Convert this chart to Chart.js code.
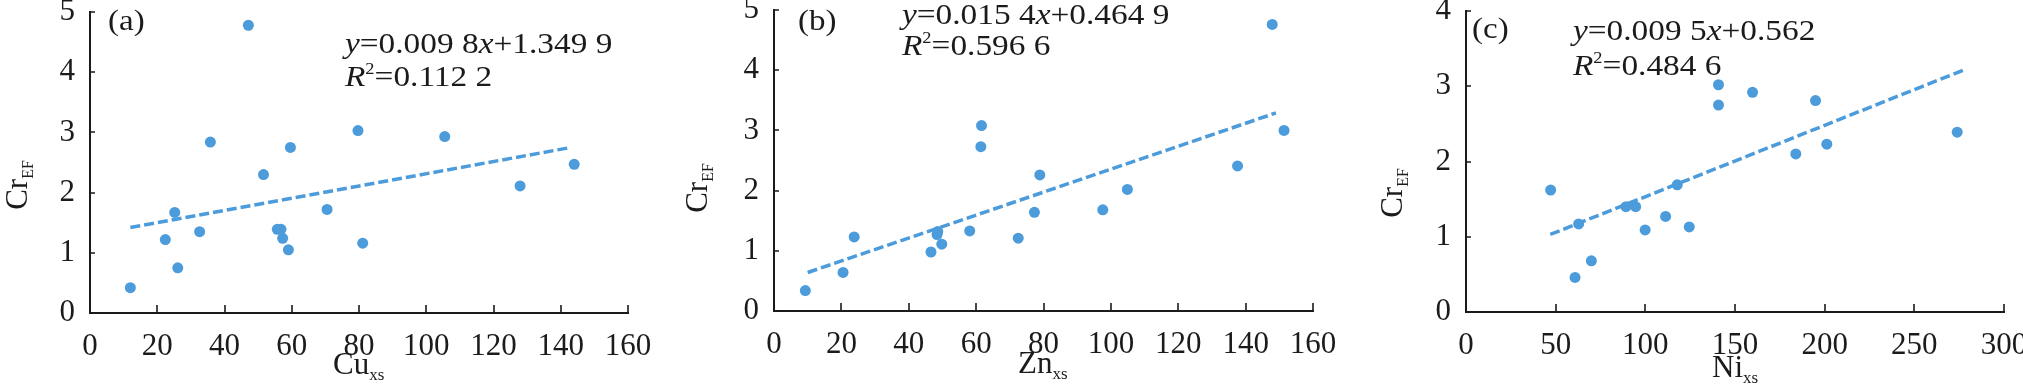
<!DOCTYPE html>
<html>
<head>
<meta charset="utf-8">
<script src="https://cdn.jsdelivr.net/npm/chart.js@4.4.1/dist/chart.umd.min.js"></script>
<style>
    body { margin: 0; background: #fff; width: 2023px; height: 384px; overflow: hidden; position: relative; }
    canvas { position: absolute; top: 0; }
</style>
</head>
<body>
<canvas id="chartA" width="680" height="384" style="left:0px"></canvas>
<canvas id="chartB" width="670" height="384" style="left:680px"></canvas>
<canvas id="chartC" width="673" height="384" style="left:1350px"></canvas>
<script>
// (a) Cu_xs x Cr_EF
const cuX = [12.0, 22.4, 25.2, 26.1, 32.6, 35.8, 47.1, 51.6, 55.7, 56.8, 57.3, 59.0, 59.6, 70.5, 79.7, 81.1, 105.5, 127.9, 144.0];
const cuY = [0.42, 1.22, 1.67, 0.75, 1.35, 2.84, 4.78, 2.30, 1.39, 1.39, 1.24, 1.05, 2.75, 1.72, 3.03, 1.16, 2.93, 2.11, 2.47];
const cuFitX = [12, 143];
const cuFitY = [1.42, 2.75];
const cuTicksX = [0, 20, 40, 60, 80, 100, 120, 140, 160];
const cuTicksY = [0, 1, 2, 3, 4, 5];

// (b) Zn_xs x Cr_EF
const znX = [9.3, 20.5, 23.8, 46.6, 48.4, 48.6, 49.8, 58.1, 61.6, 61.4, 72.5, 77.3, 78.9, 97.6, 104.9, 137.6, 147.9, 151.4];
const znY = [0.34, 0.64, 1.23, 0.98, 1.27, 1.32, 1.11, 1.33, 3.08, 2.73, 1.21, 1.64, 2.26, 1.68, 2.02, 2.41, 4.76, 3.00];
const znFitX = [10, 149];
const znFitY = [0.64, 3.29];
const znTicksX = [0, 20, 40, 60, 80, 100, 120, 140, 160];
const znTicksY = [0, 1, 2, 3, 4, 5];

// (c) Ni_xs x Cr_EF
const niX = [47.2, 62.8, 60.8, 69.9, 89.2, 94.6, 99.9, 111.3, 117.8, 124.5, 140.8, 140.8, 159.8, 183.9, 194.9, 201.2, 273.9];
const niY = [1.62, 1.17, 0.46, 0.68, 1.40, 1.40, 1.09, 1.27, 1.69, 1.13, 3.02, 2.75, 2.92, 2.10, 2.81, 2.23, 2.39];
const niFitX = [47, 279];
const niFitY = [1.03, 3.23];
const niTicksX = [0, 50, 100, 150, 200, 250, 300];
const niTicksY = [0, 1, 2, 3, 4];

// textos das equacoes
const eqA = ['0.009 8', '1.349 9', '0.112 2'];
const eqB = ['0.015 4', '0.464 9', '0.596 6'];
const eqC = ['0.009 5', '0.562', '0.484 6'];

const BLUE = '#4c9bdb';
const INK = '#1b1b1b';
const FONT = '"Liberation Serif", "Times New Roman", serif';
const STRETCH = 1.15; // o texto original e um pouco mais largo

Chart.defaults.font.family = FONT;
Chart.defaults.color = INK;

function toPoints(xs, ys) {
    return xs.map((x, i) => ({ x: x, y: ys[i] }));
}

function setFont(ctx, size, italic) {
    ctx.font = (italic ? 'italic ' : '') + size + 'px ' + FONT;
}

// desenha uma sequencia de pedacos de texto (com sub/sobrescritos)
function drawRuns(ctx, runs, x, y, k) {
    k = k || 1;
    runs.forEach(r => {
        setFont(ctx, r.size || 29, r.italic);
        ctx.save();
        ctx.translate(x, y + (r.dy || 0));
        ctx.scale(k, 1);
        ctx.fillText(r.text, 0, 0);
        ctx.restore();
        x += ctx.measureText(r.text).width * k;
    });
}

function runsWidth(ctx, runs) {
    let w = 0;
    runs.forEach(r => {
        setFont(ctx, r.size || 29, r.italic);
        w += ctx.measureText(r.text).width;
    });
    return w;
}

// ticks para dentro + textos do painel
const panelDecor = {
    id: 'panelDecor',
    afterDraw(chart, args, opts) {
        const ctx = chart.ctx;
        const area = chart.chartArea;
        const sx = chart.scales.x, sy = chart.scales.y;
        ctx.save();
        ctx.strokeStyle = INK;
        ctx.lineWidth = 1.6;
        ctx.beginPath();
        sx.ticks.forEach(t => {
            const px = Math.round(sx.getPixelForValue(t.value));
            ctx.moveTo(px, area.bottom);
            ctx.lineTo(px, area.bottom - 8);
        });
        sy.ticks.forEach(t => {
            const py = Math.round(sy.getPixelForValue(t.value));
            ctx.moveTo(area.left, py);
            ctx.lineTo(area.left + 5, py);
        });
        ctx.stroke();

        const off = opts.offset;
        ctx.fillStyle = INK;
        ctx.textAlign = 'left';
        ctx.textBaseline = 'alphabetic';

        // rotulo (a)/(b)/(c)
        drawRuns(ctx, [{ text: opts.label, size: 30 }], opts.labelPos[0] - off, opts.labelPos[1], 1.1);

        // equacao
        const ex = opts.eqPos[0] - off;
        drawRuns(ctx, [
            { text: 'y', italic: true }, { text: '=' + opts.eq[0] },
            { text: 'x', italic: true }, { text: '+' + opts.eq[1] }
        ], ex, opts.eqPos[1], STRETCH);
        drawRuns(ctx, [
            { text: 'R', italic: true }, { text: '2', size: 16, dy: -12 }, { text: '=' + opts.eq[2] }
        ], ex, opts.eqPos[2], STRETCH);

        // titulo eixo x
        drawRuns(ctx, [{ text: opts.xTitle, size: 31 }, { text: 'xs', size: 17, dy: 6 }],
            opts.xTitlePos[0] - off, opts.xTitlePos[1], 1);

        // titulo eixo y (rotacionado)
        const yRuns = [{ text: 'Cr', size: 31 }, { text: 'EF', size: 16, dy: 6 }];
        const w = runsWidth(ctx, yRuns);
        ctx.translate(opts.yTitlePos[0] - off, opts.yTitlePos[1] + w / 2);
        ctx.rotate(-Math.PI / 2);
        drawRuns(ctx, yRuns, 0, 0, 1);
        ctx.restore();
    }
};

function makePanel(id, cfg) {
    const canvas = document.getElementById(id);
    const W = canvas.width, H = canvas.height;
    const off = cfg.offset;
    const left = cfg.plot.left - off;
    const right = cfg.plot.right - off;

    new Chart(canvas.getContext('2d'), {
        type: 'scatter',
        data: {
            datasets: [
                {
                    data: toPoints(cfg.xs, cfg.ys),
                    backgroundColor: BLUE,
                    borderWidth: 0,
                    pointRadius: 5.5,
                    pointHoverRadius: 5.5
                },
                {
                    type: 'line',
                    data: toPoints(cfg.fitX, cfg.fitY),
                    borderColor: BLUE,
                    borderWidth: 3.5,
                    borderDash: [10, 4],
                    pointRadius: 0,
                    fill: false
                }
            ]
        },
        options: {
            responsive: false,
            animation: false,
            layout: { padding: { left: 0, right: W - right, top: cfg.plot.top, bottom: 0 } },
            plugins: {
                legend: { display: false },
                tooltip: { enabled: false },
                panelDecor: Object.assign({ offset: off }, cfg.text)
            },
            scales: {
                x: {
                    type: 'linear',
                    min: cfg.ticksX[0],
                    max: cfg.ticksX[cfg.ticksX.length - 1],
                    afterBuildTicks: s => { s.ticks = cfg.ticksX.map(v => ({ value: v })); },
                    afterFit: s => { s.height = H - cfg.plot.bottom; s.paddingLeft = 0; s.paddingRight = 0; },
                    grid: { display: false },
                    border: { display: true, color: INK, width: 2 },
                    ticks: { font: { size: 31 }, color: INK, padding: 7, maxRotation: 0, autoSkip: false }
                },
                y: {
                    type: 'linear',
                    min: cfg.ticksY[0],
                    max: cfg.ticksY[cfg.ticksY.length - 1],
                    afterBuildTicks: s => { s.ticks = cfg.ticksY.map(v => ({ value: v })); },
                    afterFit: s => { s.width = left; s.paddingTop = 0; s.paddingBottom = 0; },
                    grid: { display: false },
                    border: { display: true, color: INK, width: 2 },
                    ticks: { font: { size: 31 }, color: INK, padding: 7, autoSkip: false }
                }
            }
        },
        plugins: [panelDecor]
    });
}

makePanel('chartA', {
    offset: 0,
    plot: { left: 90, right: 628, top: 12, bottom: 313 },
    xs: cuX, ys: cuY, fitX: cuFitX, fitY: cuFitY, ticksX: cuTicksX, ticksY: cuTicksY,
    text: { label: '(a)', labelPos: [108, 30], eq: eqA, eqPos: [345, 53, 86],
            xTitle: 'Cu', xTitlePos: [333, 374], yTitlePos: [27, 185] }
});

makePanel('chartB', {
    offset: 680,
    plot: { left: 774, right: 1313, top: 10, bottom: 311 },
    xs: znX, ys: znY, fitX: znFitX, fitY: znFitY, ticksX: znTicksX, ticksY: znTicksY,
    text: { label: '(b)', labelPos: [798, 30], eq: eqB, eqPos: [902, 24, 55],
            xTitle: 'Zn', xTitlePos: [1018, 373], yTitlePos: [707, 188] }
});

makePanel('chartC', {
    offset: 1350,
    plot: { left: 1466, right: 2004, top: 11, bottom: 312 },
    xs: niX, ys: niY, fitX: niFitX, fitY: niFitY, ticksX: niTicksX, ticksY: niTicksY,
    text: { label: '(c)', labelPos: [1472, 38], eq: eqC, eqPos: [1573, 40, 75],
            xTitle: 'Ni', xTitlePos: [1712, 377], yTitlePos: [1402, 193] }
});
</script>
</body>
</html>
